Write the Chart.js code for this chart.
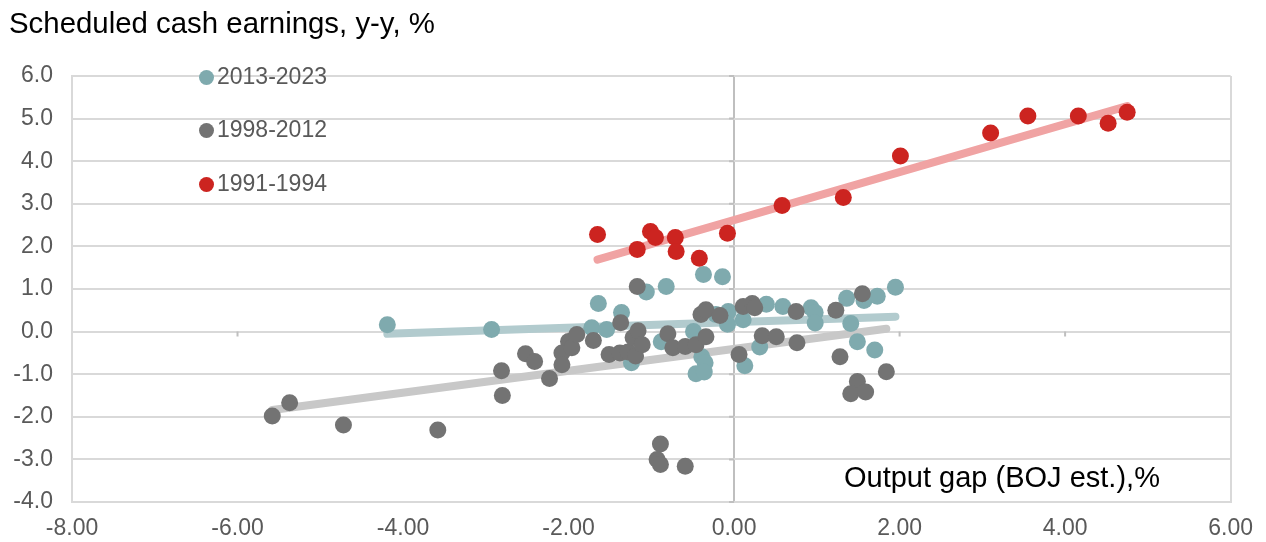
<!DOCTYPE html>
<html>
<head>
<meta charset="utf-8">
<script src="https://cdn.jsdelivr.net/npm/chart.js@4"></script>
<style>
  body { margin: 0; background: #fff; font-family: "Liberation Sans", Arial, sans-serif; }
  #wrap { position: relative; width: 1266px; height: 542px; }
  #title { position: absolute; left: 9px; top: 6px; font-size: 29.4px; color: #000; white-space: nowrap; }
  #xtitle { position: absolute; left: 844px; top: 461px; font-size: 29px; color: #000; white-space: nowrap; }
  .leg { position: absolute; left: 199px; font-size: 23px; color: #595959; white-space: nowrap; line-height: 26px; }
  .leg i { display: inline-block; width: 15px; height: 15px; border-radius: 50%; margin-right: 3px; vertical-align: -1px; }
</style>
</head>
<body>
<div id="wrap">
  <canvas id="chart" width="1266" height="542"></canvas>
  <div id="title">Scheduled cash earnings, y-y, %</div>
  <div id="xtitle">Output gap (BOJ est.),%</div>
  <div class="leg" style="top:63px"><i style="background:#7faaae"></i>2013-2023</div>
  <div class="leg" style="top:116px"><i style="background:#737373"></i>1998-2012</div>
  <div class="leg" style="top:170px"><i style="background:#cc2420"></i>1991-1994</div>
</div>
<script>
// 2013-2023
const tealX = [-4.19, -2.93, -1.64, -1.72, -1.54, -1.36, -1.06, -0.82, -0.37, -0.14,
  -1.24, -0.88, -0.49, -0.39, -0.35, -0.46, -0.36, -0.22, -0.07, -0.08,
  0.11, 0.13, 0.31, 0.39, 0.59, 0.93, 0.98, 0.98, 1.36, 1.41,
  1.49, 1.57, 1.70, 1.73, 1.95];
const tealY = [0.16, 0.05, 0.66, 0.09, 0.05, 0.45, 0.93, 1.06, 1.34, 1.29,
  -0.73, -0.24, 0.00, -0.59, -0.73, -0.99, -0.95, 0.40, 0.47, 0.17,
  0.28, -0.80, -0.36, 0.64, 0.59, 0.56, 0.45, 0.20, 0.78, 0.19,
  -0.24, 0.73, -0.43, 0.83, 1.04];

// 1998-2012
const grayX = [-5.58, -5.37, -4.72, -3.58, -2.81, -2.80, -2.52, -2.41, -2.23, -2.08,
  -2.08, -2.00, -1.96, -1.90, -1.70, -1.51, -1.38, -1.37, -1.28, -1.22,
  -1.17, -1.16, -1.19, -1.11, -0.80, -0.74, -0.59, -0.46, -0.34, -0.40,
  -0.34, -0.17, 0.06, 0.11, 0.22, 0.25, 0.34, 0.51, 0.75, 0.76,
  1.23, 1.28, 1.55, 1.49, 1.41, 1.59, 1.84, -0.89, -0.93, -0.89, -0.59];
const grayY = [-1.98, -1.67, -2.19, -2.31, -0.92, -1.50, -0.52, -0.70, -1.10, -0.50,
  -0.78, -0.23, -0.38, -0.07, -0.21, -0.54, -0.50, 0.21, -0.48, -0.14,
  1.06, 0.02, -0.57, -0.31, -0.05, -0.38, -0.35, -0.31, -0.12, 0.40,
  0.51, 0.38, -0.54, 0.59, 0.66, 0.56, -0.10, -0.12, 0.47, -0.26,
  0.50, -0.59, 0.89, -1.17, -1.46, -1.42, -0.94, -2.64, -3.00, -3.12, -3.16];

// 1991-1994
const redX = [-1.65, -1.17, -1.01, -0.95, -0.71, -0.70, -0.42, -0.08,
  0.58, 1.32, 2.01, 3.10, 3.55, 4.16, 4.52, 4.75];
const redY = [2.28, 1.93, 2.35, 2.21, 2.21, 1.88, 1.72, 2.31,
  2.96, 3.15, 4.12, 4.66, 5.06, 5.06, 4.89, 5.15];

// linear trendlines (teal, gray, red)
const trendSlope = [0.065, 0.257, 0.563];
const trendIntercept = [0.222, -0.408, 2.618];

const xTicks = [-8, -6, -4, -2, 0, 2, 4, 6];
const yTicks = [-4, -3, -2, -1, 0, 1, 2, 3, 4, 5, 6];

const FONT = '"Liberation Sans", Arial, sans-serif';

function toPoints(xs, ys) {
  return xs.map((x, i) => ({ x: x, y: ys[i] }));
}

// trendline drawn over the series' x range
function trend(xs, k) {
  const x0 = Math.min(...xs), x1 = Math.max(...xs);
  return [
    { x: x0, y: trendIntercept[k] + trendSlope[k] * x0 },
    { x: x1, y: trendIntercept[k] + trendSlope[k] * x1 }
  ];
}

function dots(data, color) {
  return {
    data: data,
    backgroundColor: color,
    borderColor: color,
    borderWidth: 0,
    pointRadius: 8.5,
    pointHoverRadius: 8.5
  };
}

function line(data, color) {
  return {
    type: 'line',
    data: data,
    borderColor: color,
    borderWidth: 8,
    borderCapStyle: 'round',
    pointRadius: 0,
    showLine: true,
    fill: false
  };
}

// small tick marks on the axes that cross at the origin
const crossTicks = {
  id: 'crossTicks',
  beforeDatasetsDraw(chart) {
    const ctx = chart.ctx;
    const xs = chart.scales.x, ys = chart.scales.y;
    const x0 = xs.getPixelForValue(0), y0 = ys.getPixelForValue(0);
    ctx.save();
    ctx.strokeStyle = '#bfbfbf';
    ctx.lineWidth = 2;
    ctx.beginPath();
    xTicks.forEach(v => {
      if (v === 0 || v === xTicks[0] || v === xTicks[xTicks.length - 1]) return;
      const px = xs.getPixelForValue(v);
      ctx.moveTo(px, y0);
      ctx.lineTo(px, y0 + 5);
    });
    yTicks.forEach(v => {
      const py = ys.getPixelForValue(v);
      ctx.moveTo(x0 - 5, py);
      ctx.lineTo(x0, py);
    });
    ctx.stroke();
    ctx.restore();
  }
};

new Chart(document.getElementById('chart'), {
  type: 'scatter',
  data: {
    datasets: [
      dots(toPoints(redX, redY), '#cc2420'),
      dots(toPoints(grayX, grayY), '#737373'),
      dots(toPoints(tealX, tealY), '#7faaae'),
      line(trend(redX, 2), '#f0a3a3'),
      line(trend(grayX, 1), '#c8c8c8'),
      line(trend(tealX, 0), '#b2cbce')
    ]
  },
  options: {
    responsive: false,
    animation: false,
    layout: { padding: { top: 76, right: 34, bottom: 0, left: 0 } },
    plugins: {
      legend: { display: false },
      tooltip: { enabled: false }
    },
    scales: {
      x: {
        type: 'linear',
        min: -8,
        max: 6,
        afterFit(scale) { scale.height = 40; },
        afterBuildTicks(scale) { scale.ticks = xTicks.map(v => ({ value: v })); },
        ticks: {
          callback: v => v.toFixed(2),
          color: '#595959',
          font: { family: FONT, size: 23 },
          padding: 13,
          maxRotation: 0
        },
        grid: {
          drawTicks: false,
          color: c => c.tick.value === 0 ? '#bfbfbf' : (c.tick.value === 6 ? '#d9d9d9' : 'rgba(0,0,0,0)'),
          lineWidth: 2
        },
        border: { color: '#d9d9d9', width: 2 }
      },
      y: {
        min: -4,
        max: 6,
        afterFit(scale) { scale.width = 72; },
        afterBuildTicks(scale) { scale.ticks = yTicks.map(v => ({ value: v })); },
        ticks: {
          callback: v => v.toFixed(1),
          color: '#595959',
          font: { family: FONT, size: 23 },
          padding: 19
        },
        grid: {
          drawTicks: false,
          color: '#d9d9d9',
          lineWidth: 2
        },
        border: { color: '#d9d9d9', width: 2 }
      }
    }
  },
  plugins: [crossTicks]
});
</script>
</body>
</html>
